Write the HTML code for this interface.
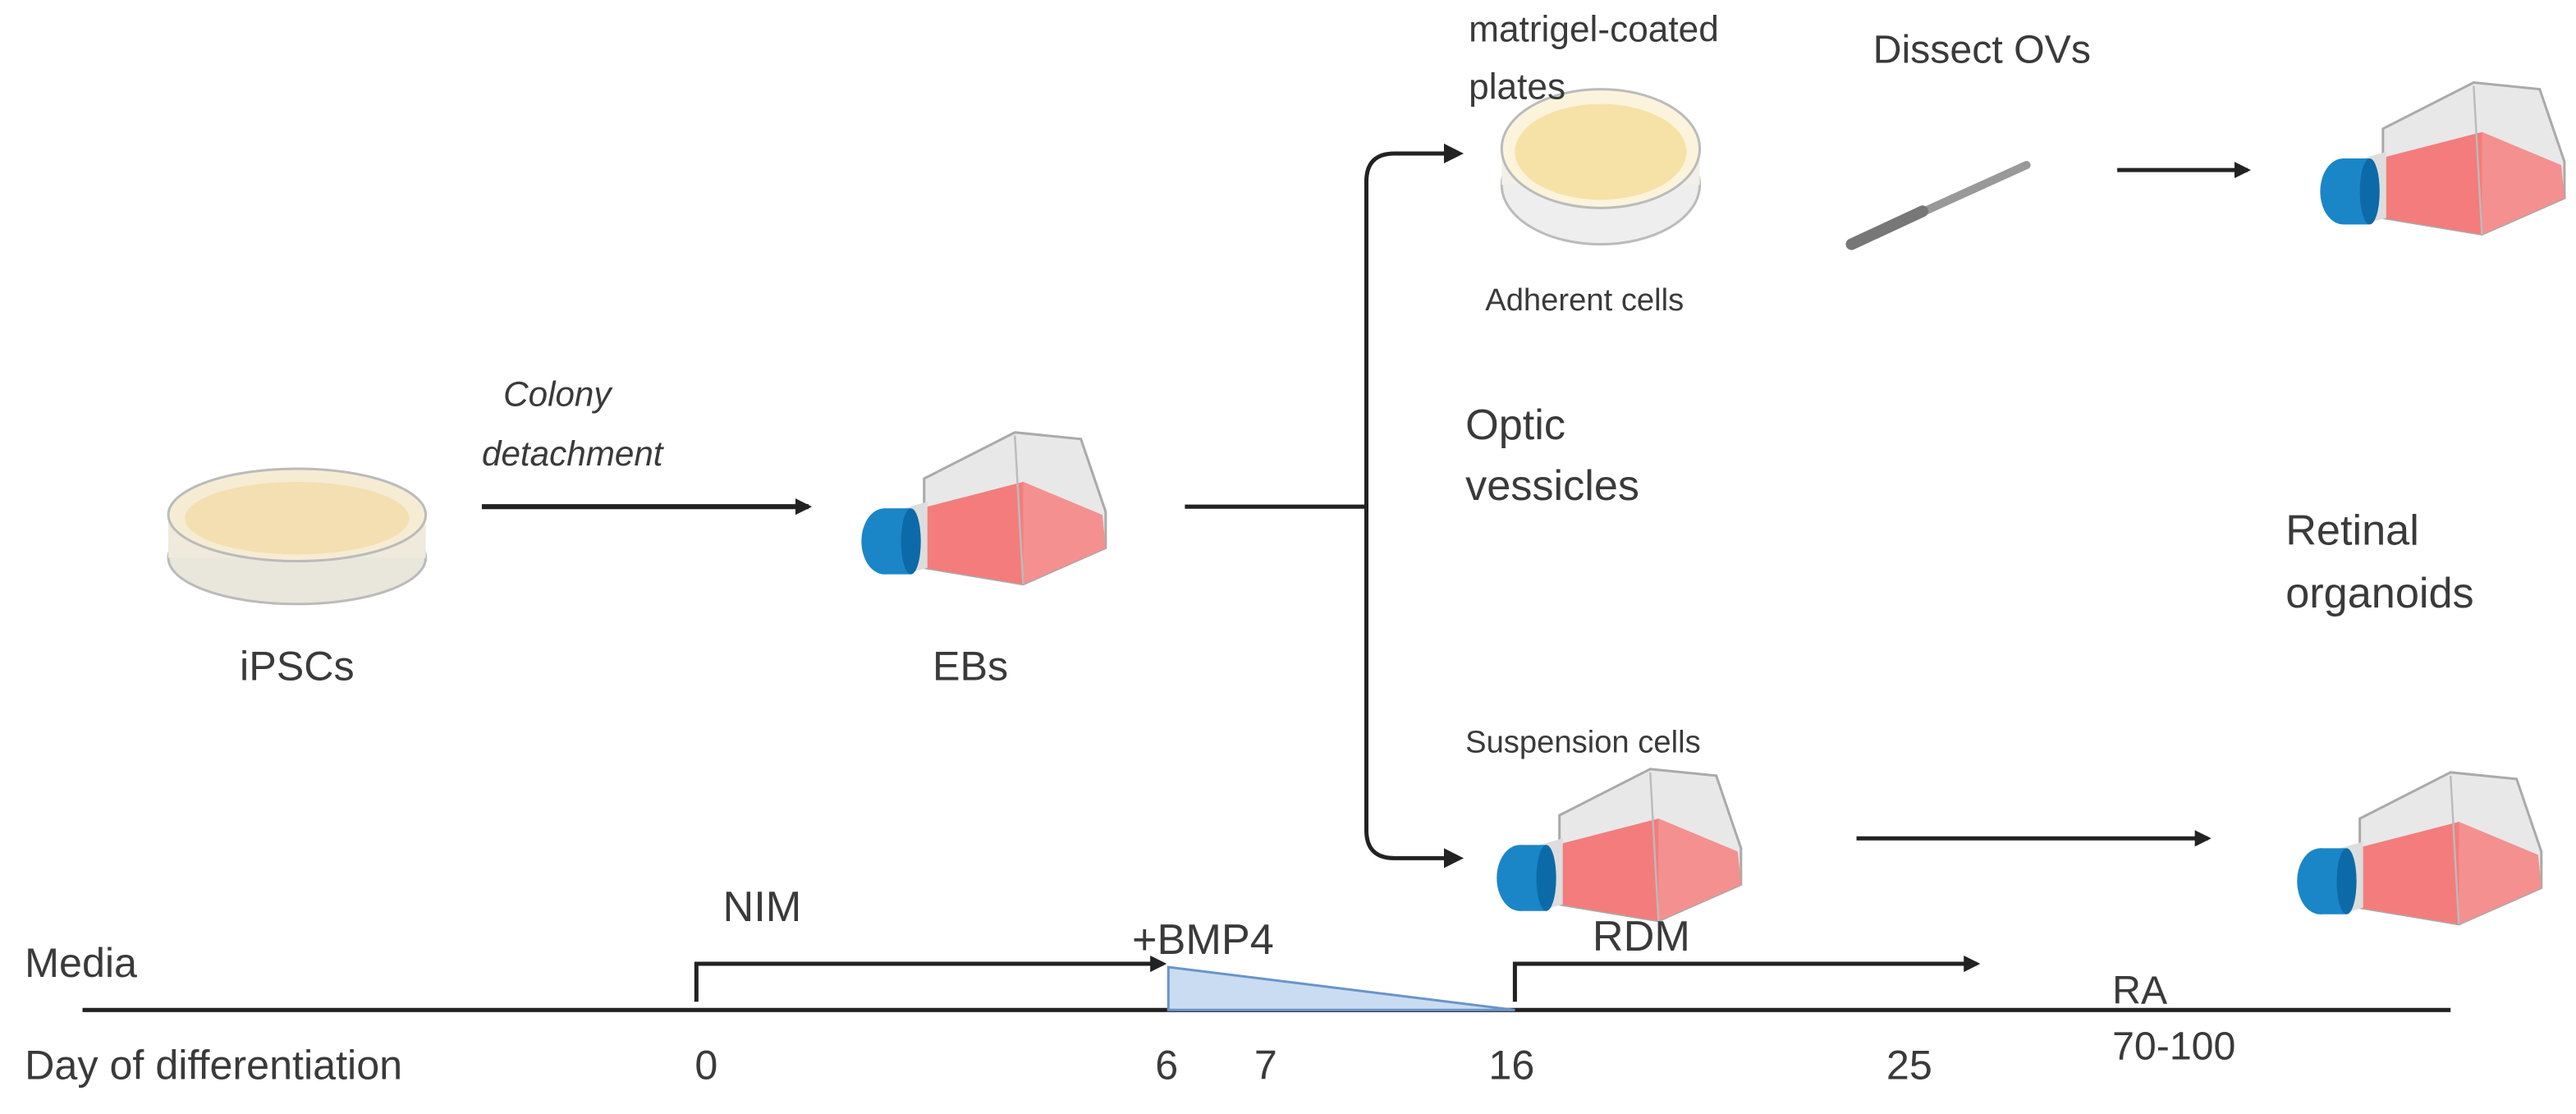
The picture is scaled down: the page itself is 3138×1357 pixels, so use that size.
<!DOCTYPE html>
<html><head><meta charset="utf-8"><style>
html,body{margin:0;padding:0;background:#fff;}
svg{display:block;}
text{font-family:"Liberation Sans",sans-serif;fill:#3a3a3a;}
</style></head><body>
<svg width="3138" height="1357" viewBox="0 0 1561 675" xmlns="http://www.w3.org/2000/svg">
<defs>
<marker id="ah" markerWidth="10" markerHeight="10" refX="8" refY="5" orient="auto" markerUnits="userSpaceOnUse">
<path d="M0,0 L10,5 L0,10 z" fill="#222"/></marker>
<g id="flask">
<polygon points="40,28 95,0 135,4 150,48 150,70 100,92 40,82" fill="#e8e8e8" stroke="#aaa" stroke-width="1.5"/>
<polygon points="38,46 100,30 148,50 150,70 100,92 40,82" fill="#f47c7c"/>
<polygon points="100,30 148,50 150,70 100,92" fill="#f59090"/>
<line x1="100" y1="92" x2="95" y2="2" stroke="#bbb" stroke-width="1.2"/>
<polygon points="28,46 42,42 42,82 28,86" fill="#ddd"/>
<ellipse cx="16" cy="66" rx="14" ry="20" fill="#1a86c8"/>
<rect x="16" y="46" width="16" height="40" fill="#1a86c8"/>
<ellipse cx="32" cy="66" rx="6" ry="20" fill="#0d6aa8"/>
</g>
</defs>

<ellipse cx="180" cy="338" rx="78" ry="28" fill="#e9e6dc" stroke="#bbb" stroke-width="1.5"/>
<rect x="102" y="312" width="156" height="26" fill="#efeadc"/>
<ellipse cx="180" cy="312" rx="78" ry="28" fill="#f6ecd4" stroke="#bbb" stroke-width="1.5"/>
<ellipse cx="180" cy="314" rx="68" ry="22" fill="#f3dfb2"/>
<text x="180" y="412" font-size="25" text-anchor="middle">iPSCs</text>

<text x="305" y="246" font-size="21" font-style="italic">Colony</text>
<text x="292" y="282" font-size="21" font-style="italic">detachment</text>
<line x1="292" y1="307" x2="490" y2="307" stroke="#222" stroke-width="3" marker-end="url(#ah)"/>

<use href="#flask" x="520" y="262"/>
<text x="588" y="412" font-size="25" text-anchor="middle">EBs</text>

<path d="M718,307 L828,307" stroke="#222" stroke-width="2.5" fill="none"/>
<path d="M883,93 L845,93 Q828,93 828,110 L828,503 Q828,520 845,520 L883,520" stroke="#222" stroke-width="2.5" fill="none"/>
<path d="M875,87 L887,93 L875,99 z" fill="#222"/>
<path d="M875,514 L887,520 L875,526 z" fill="#222"/>

<ellipse cx="970" cy="112" rx="60" ry="36" fill="#eee" stroke="#bbb" stroke-width="1.5"/>
<rect x="910" y="90" width="120" height="22" fill="#f2f0e8"/>
<ellipse cx="970" cy="90" rx="60" ry="36" fill="#fbf3dc" stroke="#bbb" stroke-width="1.5"/>
<ellipse cx="970" cy="92" rx="52" ry="29" fill="#f6e2a6"/>
<text x="890" y="25" font-size="22">matrigel-coated</text>
<text x="890" y="60" font-size="22">plates</text>
<text x="900" y="188" font-size="19">Adherent cells</text>

<text x="1135" y="38" font-size="24">Dissect OVs</text>
<line x1="1122" y1="148" x2="1228" y2="100" stroke="#999" stroke-width="5" stroke-linecap="round"/>
<line x1="1122" y1="148" x2="1165" y2="128" stroke="#777" stroke-width="7" stroke-linecap="round"/>
<line x1="1283" y1="103" x2="1362" y2="103" stroke="#222" stroke-width="2.5" marker-end="url(#ah)"/>
<use href="#flask" x="1404" y="50"/>

<text x="888" y="266" font-size="26">Optic</text>
<text x="888" y="303" font-size="26">vessicles</text>
<text x="1385" y="330" font-size="26">Retinal</text>
<text x="1385" y="368" font-size="26">organoids</text>

<text x="888" y="456" font-size="19">Suspension cells</text>
<use href="#flask" x="905" y="466"/>
<line x1="1125" y1="508" x2="1338" y2="508" stroke="#222" stroke-width="2.5" marker-end="url(#ah)"/>
<use href="#flask" x="1390" y="468"/>

<text x="15" y="592" font-size="25">Media</text>
<text x="15" y="654" font-size="25">Day of differentiation</text>
<line x1="50" y1="612" x2="1485" y2="612" stroke="#222" stroke-width="2.5"/>
<polygon points="708,586 708,612 918,612" fill="#c9dcf2" stroke="#6a94c8" stroke-width="1.5"/>
<path d="M422,607 L422,584 L705,584" stroke="#222" stroke-width="2.5" fill="none" marker-end="url(#ah)"/>
<path d="M918,607 L918,584 L1198,584" stroke="#222" stroke-width="2.5" fill="none" marker-end="url(#ah)"/>
<text x="438" y="558" font-size="26">NIM</text>
<text x="686" y="578" font-size="26">+BMP4</text>
<text x="965" y="576" font-size="26">RDM</text>
<text x="1280" y="608" font-size="24" fill="#111">RA</text>
<text x="1280" y="642" font-size="24" fill="#111">70-100</text>
<text x="428" y="654" font-size="25" text-anchor="middle">0</text>
<text x="707" y="654" font-size="25" text-anchor="middle">6</text>
<text x="767" y="654" font-size="25" text-anchor="middle">7</text>
<text x="916" y="654" font-size="25" text-anchor="middle">16</text>
<text x="1157" y="654" font-size="25" text-anchor="middle">25</text>
</svg>
</body></html>
